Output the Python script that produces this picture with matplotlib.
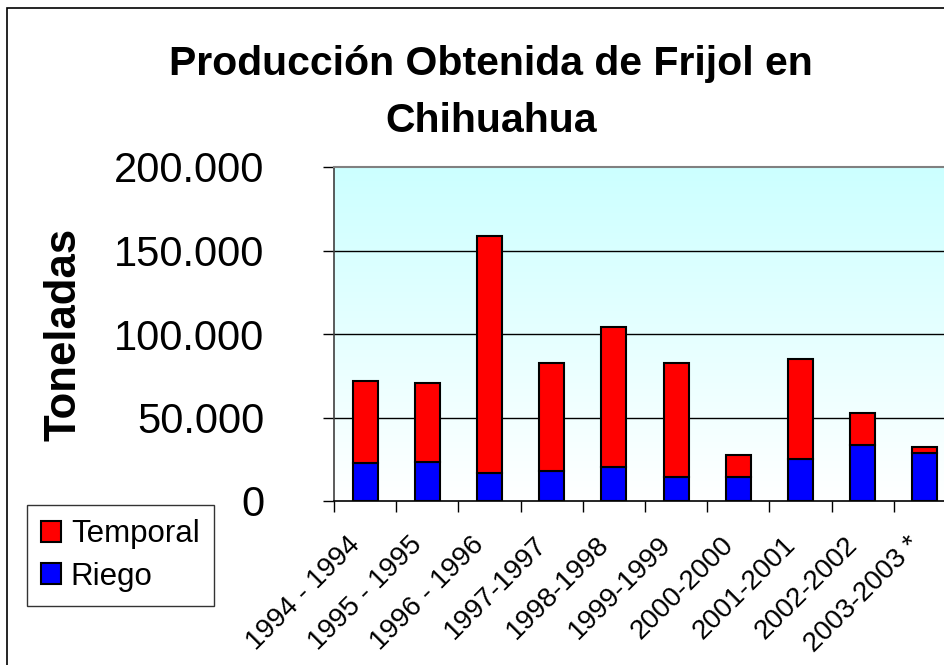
import numpy as np
import matplotlib
matplotlib.use("Agg")
import matplotlib.pyplot as plt
from matplotlib.patches import Rectangle
from matplotlib.ticker import FixedLocator, FuncFormatter
from matplotlib.transforms import ScaledTranslation

plt.rcParams['font.family'] = ['Liberation Sans', 'DejaVu Sans']

# data (toneladas)
periodos = ["1994 - 1994", "1995 - 1995", "1996 - 1996", "1997-1997", "1998-1998",
            "1999-1999", "2000-2000", "2001-2001", "2002-2002", "2003-2003 *"]
riego = [22800, 23600, 16600, 17800, 20200, 14200, 14200, 25000, 33400, 28600]
temporal = [49200, 47200, 141800, 65000, 84200, 68600, 13200, 60000, 19200, 3800]
yticks = [0, 50000, 100000, 150000, 200000]
titulo = "Producción Obtenida de Frijol en\nChihuahua"

W, H = 944, 665
fig = plt.figure(figsize=(W / 100, H / 100), dpi=100)
fig.patch.set_facecolor('white')

# plot area (right side runs off the picture like in the original)
ax = fig.add_axes([334 / W, 1 - 501 / H, 622 / W, 334 / H])

# cyan -> white gradient background
grad = np.linspace(0, 1, 256).reshape(-1, 1)
top = np.array([0.80, 1.0, 1.0])
bot = np.array([1.0, 1.0, 1.0])
img = bot + (top - bot) * grad[::-1]
img = np.repeat(img[:, None, :], 2, axis=1).reshape(256, 2, 3)
ax.imshow(img, extent=[0, 1, 0, 1], transform=ax.transAxes, aspect='auto', zorder=0)

x = np.arange(len(periodos))
ax.bar(x, riego, width=0.4, color='#0000FF', edgecolor='black', linewidth=1.5,
       label='Riego', zorder=3)
ax.bar(x, temporal, width=0.4, bottom=riego, color='#FF0000', edgecolor='black',
       linewidth=1.5, label='Temporal', zorder=3)

ax.set_xlim(-0.5, len(periodos) - 0.5)
ax.set_ylim(0, 200000)

for v in yticks[1:-1]:
    ax.axhline(v, color='black', linewidth=1, zorder=1)

ax.spines['right'].set_visible(False)
ax.spines['top'].set_color('#808080')
ax.spines['top'].set_linewidth(1.5)
ax.spines['left'].set_color('#404040')
ax.spines['left'].set_linewidth(1.2)
ax.spines['bottom'].set_linewidth(1.2)

ax.set_yticks(yticks)
ax.yaxis.set_major_formatter(FuncFormatter(lambda v, p: f"{int(v):,}".replace(",", ".")))
ax.tick_params(axis='y', direction='out', length=8, width=1, pad=42, labelsize=30)

ax.set_xticks(x)
ax.set_xticklabels(periodos, rotation=45, ha='right', va='center',
                   rotation_mode='anchor', fontsize=20)
ax.xaxis.set_minor_locator(FixedLocator(np.arange(-0.5, len(periodos), 1)))
ax.tick_params(axis='x', which='major', length=0, pad=29)
ax.tick_params(axis='x', which='minor', length=8, width=1, direction='out')
shift = ScaledTranslation(-9 / 100, 0, fig.dpi_scale_trans)
for lbl in ax.get_xticklabels():
    lbl.set_transform(lbl.get_transform() + shift)

fig.text(64 / W, 1 - 334 / H, "Toneladas", rotation=90, ha='center', va='center',
         fontsize=31.5, fontweight='bold')

# title, one line at a time
for i, linea in enumerate(titulo.split("\n")):
    fig.text(491 / W, 1 - (75 + 57 * i) / H, linea, ha='center', va='baseline',
             fontsize=29.5, fontweight='bold')

h, l = ax.get_legend_handles_labels()
leg = fig.legend(h[::-1], l[::-1], loc='upper left',
                 bbox_to_anchor=(27 / W, 1 - 505 / H), fontsize=22.5,
                 frameon=True, fancybox=False, handlelength=0.65, handleheight=0.65,
                 handletextpad=0.3, borderpad=0.45, labelspacing=0.4, borderaxespad=0)
leg.get_frame().set_edgecolor('black')
leg.get_frame().set_linewidth(1)

# outer chart border
fig.patches.append(Rectangle((7 / W, -0.1), 1.2, (H - 8) / H + 0.1,
                             transform=fig.transFigure, fill=False,
                             edgecolor='black', linewidth=1.2))

fig.savefig("out.png", dpi=100)
